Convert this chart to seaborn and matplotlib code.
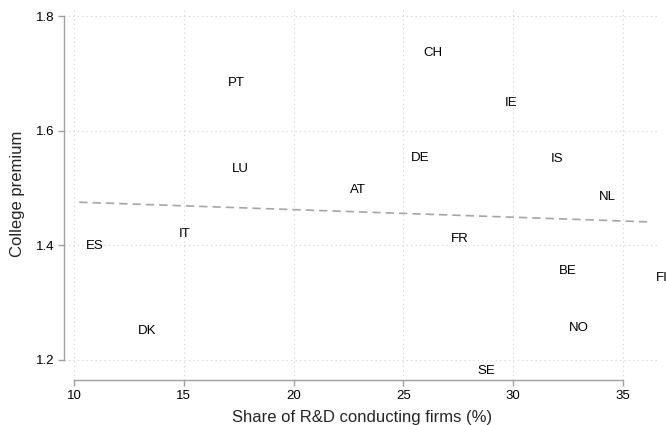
import matplotlib
matplotlib.use("Agg")
import matplotlib.pyplot as plt
import seaborn as sns
import pandas as pd

# country codes and values
countries = ["ES", "IT", "DK", "PT", "LU", "AT", "DE", "CH", "FR", "SE",
             "IE", "IS", "BE", "NO", "NL", "FI"]
rd_share = [10.24, 14.49, 12.62, 16.73, 16.89, 22.27, 25.04, 25.61, 26.87, 28.09,
            29.32, 31.41, 31.80, 32.24, 33.61, 36.21]
college_premium = [1.398, 1.420, 1.251, 1.683, 1.534, 1.496, 1.553, 1.735, 1.411, 1.180,
                   1.649, 1.551, 1.355, 1.256, 1.485, 1.343]
x_ticks = [10, 15, 20, 25, 30, 35]
y_ticks = [1.2, 1.4, 1.6, 1.8]

df = pd.DataFrame({"country": countries, "rd": rd_share, "prem": college_premium})

sns.set_style("white")
plt.rcParams["font.family"] = ["Liberation Sans", "DejaVu Sans"]

fig, ax = plt.subplots(figsize=(6.66, 4.25), dpi=100)
fig.subplots_adjust(left=0.096, right=0.991, bottom=0.106, top=0.9835)

# fitted line
sns.regplot(data=df, x="rd", y="prem", scatter=False, ci=None, truncate=True, ax=ax,
            line_kws={"color": "#a6a6a6", "lw": 1.2, "ls": (0, (5, 3))})

# labels placed right of (invisible) markers
for c, x, y in zip(df["country"], df["rd"], df["prem"]):
    ax.annotate(c, (x, y), xytext=(4.7, 0), textcoords="offset points",
                ha="left", va="center", fontsize=9.5, color="black")

ax.set_xlim(9.545, 36.69)
ax.set_ylim(1.165, 1.816)
ax.set_xticks(x_ticks)
ax.set_yticks(y_ticks)
ax.grid(True, ls=(0, (1, 3)), color="#cfcfcf", lw=0.8)

sns.despine(ax=ax, trim=True)
for s in ["left", "bottom"]:
    ax.spines[s].set_color("#a0a0a0")
    ax.spines[s].set_linewidth(1.0)
ax.tick_params(axis="both", direction="out", length=4, width=1.0, color="#a0a0a0",
               labelsize=9.5, labelcolor="black", pad=3, bottom=True, left=True)

ax.set_xlabel("Share of R&D conducting firms (%)", fontsize=12, labelpad=6)
ax.set_ylabel("College premium", fontsize=12, labelpad=8)

fig.savefig("out.png", dpi=100)
